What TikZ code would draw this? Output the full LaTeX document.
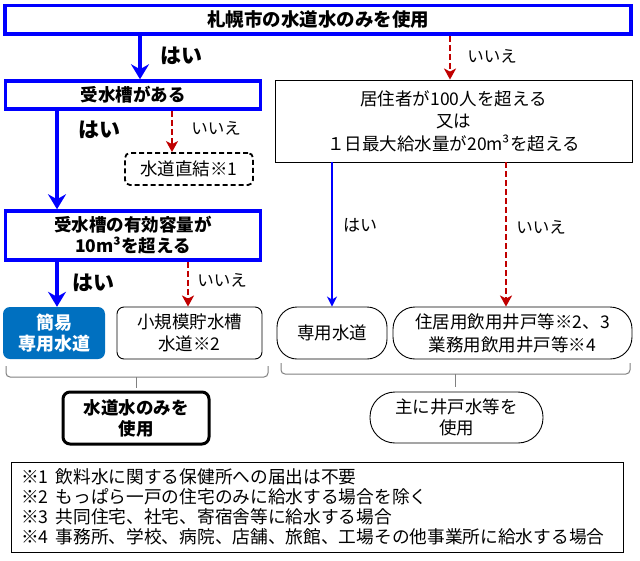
\documentclass[tikz,border=0pt]{standalone}
\usepackage{fontspec}
\setmainfont{Noto Sans CJK JP}
\usetikzlibrary{arrows.meta}
\definecolor{dred}{HTML}{C00000}
\definecolor{fblue}{HTML}{0070C0}
\definecolor{bgray}{HTML}{808080}
\tikzset{
  boxbase/.style={inner sep=0pt, align=center, font=\fontsize{17.5}{22}\selectfont},
  bluebox/.style={boxbase, draw=blue, line width=3.5pt},
  thinbox/.style={boxbase, draw=black, line width=0.9pt},
  lbl/.style={inner sep=0pt, font=\fontsize{16.5}{20}\selectfont},
  hai/.style={inner sep=0pt, font=\fontsize{21}{24}\selectfont\bfseries},
  bluearr/.style={draw=blue, line width=3.5pt, -{Stealth[length=15pt,width=18pt,inset=5pt]}},
  thinarr/.style={draw=blue, line width=1.5pt, -{Stealth[length=10pt,width=10pt,inset=3pt]}},
  redarr/.style={draw=dred, line width=2.6pt, dash pattern=on 6pt off 3pt, -{Stealth[length=11pt,width=12pt,inset=3pt]}},
  bracepath/.style={draw=bgray, line width=1pt, rounded corners=4pt},
}
\begin{document}
\begin{tikzpicture}[x=1pt,y=-1pt]
\useasboundingbox[fill=white] (0,0) rectangle (640,560);

% boxes
\node[bluebox, minimum width=626pt, minimum height=28.5pt, font=\fontsize{18.5}{22}\selectfont\bfseries] (top) at (318,19.75) {札幌市の水道水のみを使用};
\node[bluebox, minimum width=255pt, minimum height=28pt, font=\fontsize{17.5}{22}\selectfont\bfseries] (box1) at (133,95) {受水槽がある};
\node[thinbox, minimum width=357pt, minimum height=82pt, font=\fontsize{17.5}{22.5}\selectfont] (q) at (453.5,121) {居住者が100人を超える\\又は\\１日最大給水量が20m³を超える};
\node[boxbase, draw=black, line width=1.8pt, dash pattern=on 5pt off 3pt, rounded corners=5pt, minimum width=128pt, minimum height=32pt] (direct) at (189,169) {水道直結※1};
\node[bluebox, minimum width=255pt, minimum height=49pt, font=\fontsize{17.5}{21}\selectfont\bfseries] (box2) at (133,235.5) {受水槽の有効容量が\\10m³を超える};
\node[boxbase, fill=fblue, text=white, rounded corners=7pt, minimum width=102pt, minimum height=52pt, font=\fontsize{18}{21}\selectfont\bfseries] (kani) at (54,333) {簡易\\専用水道};
\node[thinbox, rounded corners=7pt, minimum width=145pt, minimum height=52pt] (small) at (189.5,333) {小規模貯水槽\\水道※2};
\node[thinbox, rounded corners=20pt, minimum width=110pt, minimum height=52pt] (sen) at (332,333) {専用水道};
\node[thinbox, rounded corners=22pt, minimum width=239pt, minimum height=52pt, font=\fontsize{17.5}{23}\selectfont] (well) at (512.5,333) {住居用飲用井戸等※2、3\\業務用飲用井戸等※4};
\node[boxbase, draw=black, line width=3pt, rounded corners=7pt, minimum width=146pt, minimum height=52pt, font=\fontsize{17.5}{21}\selectfont\bfseries] (useonly) at (136,418) {水道水のみを\\使用};
\node[thinbox, rounded corners=25pt, minimum width=173pt, minimum height=51pt, font=\fontsize{17.5}{21}\selectfont] (mainly) at (456.5,417.5) {主に井戸水等を\\使用};
\node[thinbox, minimum width=612pt, minimum height=90pt] (notesbox) at (317,507) {};
\node[inner sep=0pt, align=left, anchor=west, font=\fontsize{17.7}{20}\selectfont] (notes) at (21,507) {※1\hspace{0.4em}飲料水に関する保健所への届出は不要\\※2\hspace{0.4em}もっぱら一戸の住宅のみに給水する場合を除く\\※3\hspace{0.4em}共同住宅、社宅、寄宿舎等に給水する場合\\※4\hspace{0.4em}事務所、学校、病院、店舗、旅館、工場その他事業所に給水する場合};

% arrow x positions
\coordinate (xa) at (140,0);
\coordinate (xb) at (450,0);
\coordinate (xc) at (57,0);
\coordinate (xd) at (172,0);
\coordinate (xe) at (188,0);
\coordinate (xf) at (332,0);
\coordinate (xg) at (506,0);

\draw[bluearr] (top.south -| xa) -- (box1.north -| xa);
\draw[redarr] (top.south -| xb) -- (q.north -| xb);
\draw[bluearr] (box1.south -| xc) -- (box2.north -| xc);
\draw[redarr] (box1.south -| xd) -- (direct.north -| xd);
\draw[bluearr] (box2.south -| xc) -- (kani.north -| xc);
\draw[redarr] (box2.south -| xe) -- (small.north -| xe);
\draw[thinarr] (q.south -| xf) -- (sen.north -| xf);
\draw[redarr] (q.south -| xg) -- (well.north -| xg);

% labels
\node[hai] (l1) at (181,56) {はい};
\node[lbl] (l2) at (492,56) {いいえ};
\node[hai] (l3) at (99,130) {はい};
\node[lbl] (l4) at (216,128) {いいえ};
\node[hai] (l5) at (93,283) {はい};
\node[lbl] (l6) at (222,280) {いいえ};
\node[lbl, font=\fontsize{17}{20}\selectfont] (l7) at (360,225) {はい};
\node[lbl] (l8) at (541,227) {いいえ};

% braces
\draw[bracepath] (6,366) -- (6,377) -- (268,377) -- (268,366);
\draw[bgray, line width=1pt] (136,377) -- (136,388);
\draw[bracepath] (281,363) -- (281,374) -- (630,374) -- (630,363);
\draw[bgray, line width=1pt] (455,374) -- (455,387);
\end{tikzpicture}
\end{document}
